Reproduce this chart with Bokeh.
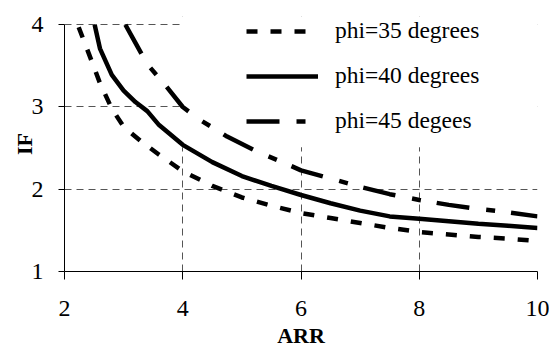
from bokeh.plotting import figure
from bokeh.models import Range1d, Legend, LegendItem, FixedTicker
from bokeh.embed import file_html
from bokeh.resources import INLINE

# ---- data ----
x35 = [2.24, 2.4, 2.6, 2.8, 3.0, 3.3, 3.6, 4.0, 4.5, 5.0, 5.5, 6.0, 6.5, 7.0, 7.5, 8.0, 8.5, 9.0, 9.5, 10.0]
y35 = [3.97, 3.67, 3.29, 2.98, 2.76, 2.58, 2.42, 2.22, 2.04, 1.90, 1.80, 1.71, 1.65, 1.59, 1.53, 1.48, 1.45, 1.42, 1.40, 1.37]

x40 = [2.51, 2.6, 2.8, 3.0, 3.2, 3.4, 3.6, 4.0, 4.5, 5.0, 5.5, 6.0, 6.5, 7.0, 7.5, 8.0, 8.5, 9.0, 9.5, 10.0]
y40 = [4.0, 3.71, 3.39, 3.20, 3.06, 2.95, 2.78, 2.54, 2.33, 2.16, 2.04, 1.93, 1.83, 1.74, 1.67, 1.64, 1.61, 1.58, 1.555, 1.53]

x45 = [3.03, 3.2, 3.4, 3.7, 4.0, 4.3, 4.75, 5.25, 5.65, 6.0, 6.5, 7.0, 7.5, 8.0, 8.5, 9.0, 9.5, 10.0]
y45 = [4.0, 3.78, 3.52, 3.27, 3.0, 2.84, 2.64, 2.46, 2.34, 2.23, 2.13, 2.03, 1.94, 1.87, 1.81, 1.76, 1.72, 1.67]

labels = ["phi=35 degrees", "phi=40 degrees", "phi=45 degees"]
x_ticks = [2, 4, 6, 8, 10]
y_ticks = [1, 2, 3, 4]

FONT = "serif"
BOLD_FONT = "'Liberation Serif', 'Times New Roman', serif"

p = figure(width=549, height=350, output_backend="svg", toolbar_location=None,
           x_range=Range1d(2, 10), y_range=Range1d(1, 4.1),
           min_border_left=64, min_border_right=12, min_border_top=16, min_border_bottom=78)
p.outline_line_color = None
p.background_fill_color = "white"
p.border_fill_color = "white"

# axes
for ax in (p.xaxis[0], p.yaxis[0]):
    ax.axis_line_color = "black"
    ax.axis_line_width = 1
    ax.major_tick_line_color = "black"
    ax.major_tick_in = 0
    ax.minor_tick_line_color = None
    ax.major_label_text_font = FONT
    ax.major_label_text_font_size = "24px"
    ax.major_label_text_color = "black"
    ax.axis_label_text_font = BOLD_FONT
    ax.axis_label_text_font_size = "22px"
    ax.axis_label_text_font_style = "bold"
    ax.axis_label_text_color = "black"

p.yaxis.bounds = (1, 4)
p.xaxis.ticker = FixedTicker(ticks=x_ticks)
p.yaxis.ticker = FixedTicker(ticks=y_ticks)
p.xaxis.major_tick_out = 8
p.yaxis.major_tick_out = 6
p.xaxis.major_label_standoff = 21
p.yaxis.major_label_standoff = 15
p.xaxis.axis_label = "ARR"
p.yaxis.axis_label = "IF"
p.xaxis.axis_label_standoff = 4
p.yaxis.axis_label_standoff = -8

# grid
for g in (p.xgrid[0], p.ygrid[0]):
    g.grid_line_color = "#555555"
    g.grid_line_width = 1
    g.grid_line_dash = "7 5"
p.xgrid.ticker = FixedTicker(ticks=x_ticks[1:])
p.ygrid.ticker = FixedTicker(ticks=y_ticks[1:])

# white legend box area that hides the grid behind it
p.quad(left=[3.96], right=[10.05], top=[4.1], bottom=[2.51],
       fill_color="white", line_color=None)

r35 = p.line(x35, y35, line_color="black", line_width=4.5, line_dash="11 13")
r40 = p.line(x40, y40, line_color="black", line_width=4.5)
r45 = p.line(x45, y45, line_color="black", line_width=4.5, line_dash="33 17 9 16")

legend = Legend(items=[LegendItem(label=labels[0], renderers=[r35]),
                       LegendItem(label=labels[1], renderers=[r40]),
                       LegendItem(label=labels[2], renderers=[r45])],
                location=(182, 137))
legend.background_fill_alpha = 0
legend.border_line_color = None
legend.padding = 0
legend.margin = 0
legend.glyph_width = 72
legend.glyph_height = 20
legend.label_height = 20
legend.spacing = 18
legend.label_standoff = 17
legend.label_text_font = FONT
legend.label_text_font_size = "23.5px"
legend.label_text_color = "black"
p.add_layout(legend)

open("out.html", "w").write(file_html(p, INLINE))
